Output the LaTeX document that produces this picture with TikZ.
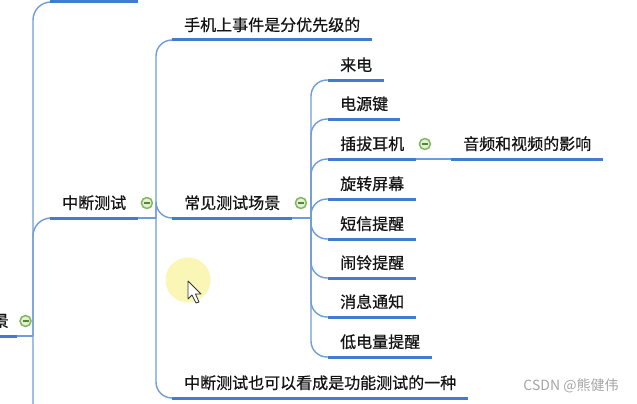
\documentclass[tikz,border=0pt]{standalone}
\usepackage{fontspec}
\newfontfamily\cjk[FakeBold=0.6]{Noto Sans CJK SC}
\newfontfamily\cjkmark{Noto Sans CJK SC}
\definecolor{lineblue}{RGB}{66,124,208}
\definecolor{connblue}{RGB}{112,156,218}
\definecolor{foldgreen}{RGB}{128,184,92}
\definecolor{foldfill}{RGB}{226,241,212}
\definecolor{inktext}{RGB}{20,20,20}
\definecolor{hilite}{RGB}{250,246,182}
\tikzset{
  topic/.style={anchor=south west, inner xsep=12pt, inner ysep=6pt,
    text height=12pt, text depth=3pt, font=\cjk\fontsize{16}{19}\selectfont, text=inktext},
  uline/.style={draw=lineblue, line width=3pt},
  conn/.style={draw=connblue, line width=1.4pt},
  fold/.style={circle, draw=foldgreen, line width=1.5pt, fill=foldfill,
    minimum size=11pt, inner sep=0pt, xshift=8.5pt, yshift=15pt,
    path picture={\draw[foldgreen!70!black, line width=1.4pt]
      ([xshift=-3pt]path picture bounding box.center) --
      ([xshift=3pt]path picture bounding box.center);}}
}
\begin{document}
\begin{tikzpicture}[x=1pt, y=-1pt]
\useasboundingbox (0,0) rectangle (637,404);
\clip (0,0) rectangle (637,404);
\fill[white] (0,0) rectangle (637,404);

% first level
\node[topic, anchor=south east, inner xsep=8pt] (root) at (17,336) {景};
\coordinate (hub) at (33,336);
\coordinate (next) at (50,440);
\node[topic, minimum width=88pt] (prev) at (50,2) {};
\node[topic] (zd) at (50,218) {中断测试};
\draw[conn] (root.south east) -- (hub);
\foreach \child in {prev, zd}
  \draw[conn, rounded corners=18pt] (hub) |- (\child.south west);
\draw[conn, rounded corners=18pt] (hub) |- (next);
\foreach \child in {root, prev, zd}
  \draw[uline] (\child.south west) -- (\child.south east);

% second level
\coordinate (zdhub) at (156,218);
\draw[conn] (zd.south east) -- (zdhub);
\foreach \name/\txt/\ypos in {youxian/手机上事件是分优先级的/40,
  changjing/常见测试场景/218, gongneng/中断测试也可以看成是功能测试的一种/398}
{
  \node[topic] (\name) at (172,\ypos) {\txt};
  \draw[conn, rounded corners=16pt] (zdhub) |- (\name.south west);
  \draw[uline] (\name.south west) -- (\name.south east);
}

% third level
\coordinate (cjhub) at (311,218);
\draw[conn] (changjing.south east) -- (cjhub);
\foreach \name/\txt/\ypos in {laidian/来电/80, dianyuan/电源键/119,
  chabo/插拔耳机/159, xuanzhuan/旋转屏幕/199, duanxin/短信提醒/239,
  naoling/闹铃提醒/278, xiaoxi/消息通知/317, didian/低电量提醒/357}
{
  \node[topic] (\name) at (328,\ypos) {\txt};
  \pgfmathsetmacro{\rad}{min(16,abs(\ypos-218)/1.2)}
  \draw[conn, rounded corners=\rad pt] (cjhub) |- (\name.south west);
  \draw[uline] (\name.south west) -- (\name.south east);
}
\node[topic] (yinpin) at (451,159) {音频和视频的影响};
\draw[conn] (chabo.south east) -- (yinpin.south west);
\draw[uline] (yinpin.south west) -- (yinpin.south east);

% collapse marks
\foreach \parent in {root, zd, changjing, chabo}
  \node[fold] (\parent fold) at (\parent.south east) {};

% pointer
\fill[hilite] (188,280) circle (22.5pt);
\draw[fill=white, draw=black!80, line width=0.8pt, line join=round]
  (188,281) -- (188,299) -- (192,295) -- (196,303) -- (199,302)
  -- (195.5,294) -- (201,294) -- cycle;

\node[font=\cjkmark\fontsize{14}{16}\selectfont, text=black!35] (csdn) at (571,386) {CSDN @熊健伟};
\end{tikzpicture}
\end{document}
